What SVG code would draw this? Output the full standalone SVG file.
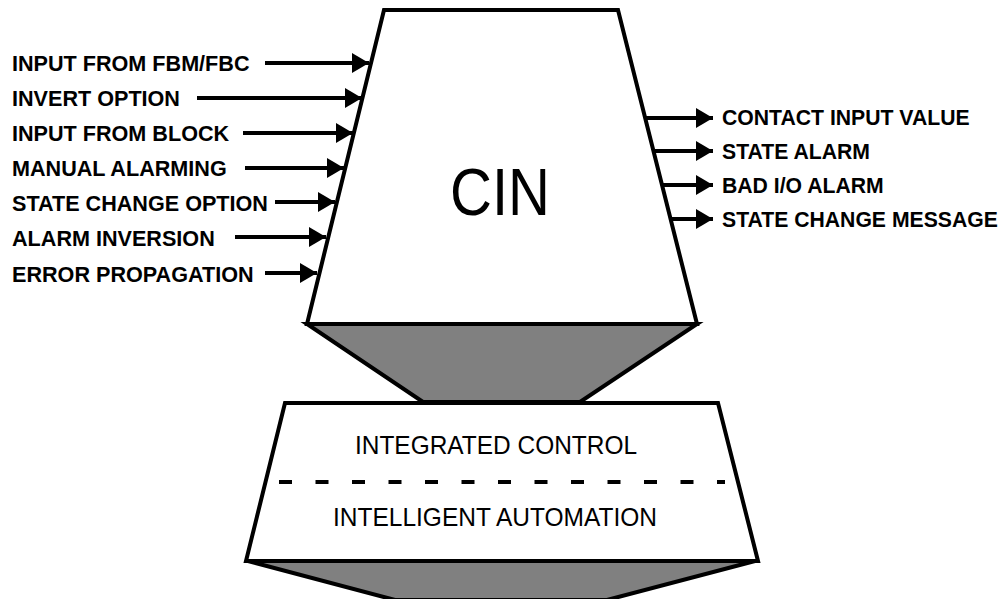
<svg xmlns="http://www.w3.org/2000/svg" width="1006" height="599" viewBox="0 0 1006 599">
<style>
.lbl{font-family:"Liberation Sans",Arial,sans-serif;font-weight:bold;font-size:21.2px;fill:#000}
.lft{font-size:21.6px}
.big{font-family:"Liberation Sans",Arial,sans-serif;fill:#000}
.edge{fill:#fff;stroke:#000;stroke-width:4;stroke-linejoin:miter}
.shade{fill:#808080;stroke:#000;stroke-width:4;stroke-linejoin:miter}
.conn line{stroke:#000;stroke-width:4;marker-end:url(#ah)}
</style>
<defs>
<marker id="ah" viewBox="0 0 17 20" refX="17" refY="10" markerWidth="17" markerHeight="20" markerUnits="userSpaceOnUse" orient="auto">
<path d="M0,0 L17,10 L0,20 Z" fill="#000"/>
</marker>
</defs>
<rect width="1006" height="599" fill="#fff"/>
<g id="base-shade">
<polygon class="shade" points="248,561 755,561 607,600 395,600"/>
</g>
<g id="platform">
<polygon class="edge" points="285,403 718,403 758,561 246,561"/>
<line x1="279" y1="482" x2="725" y2="482" stroke="#000" stroke-width="4" stroke-dasharray="13 23.5"/>
<text class="big" x="496" y="454" font-size="26" text-anchor="middle" textLength="282" lengthAdjust="spacingAndGlyphs">INTEGRATED CONTROL</text>
<text class="big" x="495" y="526" font-size="26" text-anchor="middle" textLength="324" lengthAdjust="spacingAndGlyphs">INTELLIGENT AUTOMATION</text>
</g>
<g id="cin-shade">
<polygon class="shade" points="307,324 697,324 580,402 423,402"/>
</g>
<g id="cin">
<polygon class="edge" points="384,10 618,10 697,324 307,324"/>
<text class="big" x="500" y="215" font-size="67" text-anchor="middle" textLength="100" lengthAdjust="spacingAndGlyphs">CIN</text>
</g>
<g id="inputs">
<text class="lbl lft" x="12" y="71">INPUT FROM FBM/FBC</text>
<text class="lbl lft" x="12" y="106">INVERT OPTION</text>
<text class="lbl lft" x="12" y="141">INPUT FROM BLOCK</text>
<text class="lbl lft" x="12" y="176">MANUAL ALARMING</text>
<text class="lbl lft" x="12" y="211">STATE CHANGE OPTION</text>
<text class="lbl lft" x="12" y="246">ALARM INVERSION</text>
<text class="lbl lft" x="12" y="282">ERROR PROPAGATION</text>
</g>
<g id="outputs">
<text class="lbl" x="722" y="125">CONTACT INPUT VALUE</text>
<text class="lbl" x="722" y="159">STATE ALARM</text>
<text class="lbl" x="722" y="193">BAD I/O ALARM</text>
<text class="lbl" x="722" y="227">STATE CHANGE MESSAGE</text>
</g>
<g id="connectors" class="conn">
<line x1="265" y1="63" x2="369" y2="63"/>
<line x1="197" y1="98" x2="362" y2="98"/>
<line x1="243" y1="133" x2="353" y2="133"/>
<line x1="245" y1="168" x2="344" y2="168"/>
<line x1="275" y1="202" x2="335" y2="202"/>
<line x1="235" y1="237" x2="326" y2="237"/>
<line x1="265" y1="273" x2="317" y2="273"/>
<line x1="645" y1="118" x2="713" y2="118"/>
<line x1="653" y1="151" x2="713" y2="151"/>
<line x1="662" y1="185" x2="713" y2="185"/>
<line x1="670" y1="219" x2="713" y2="219"/>
</g>
</svg>
